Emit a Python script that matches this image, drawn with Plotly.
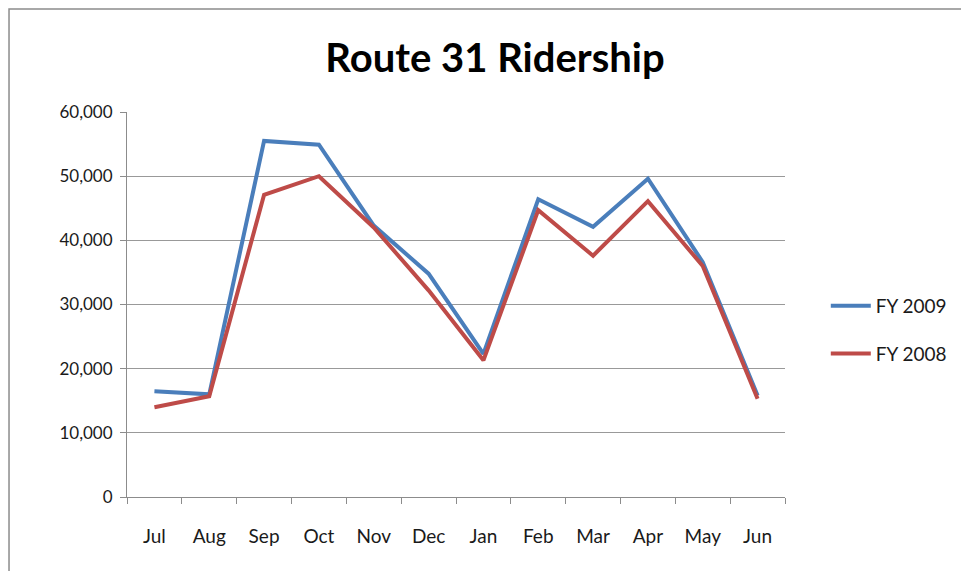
import plotly.graph_objects as go

# Route 31 ridership by month
months = ['Jul', 'Aug', 'Sep', 'Oct', 'Nov', 'Dec', 'Jan', 'Feb', 'Mar', 'Apr', 'May', 'Jun']
fy2009 = [16500, 16000, 55500, 54900, 42300, 34800, 22300, 46400, 42100, 49600, 36600, 15800]
fy2008 = [14000, 15700, 47100, 50000, 42000, 32200, 21300, 44700, 37600, 46100, 36000, 15300]
y_ticks = [0, 10000, 20000, 30000, 40000, 50000, 60000]

font_name = 'Lato, Open Sans, sans-serif'

fig = go.Figure()
fig.add_trace(go.Scatter(x=months, y=fy2009, name='FY 2009', mode='lines', legendgroup='a',
                         line=dict(color='#4A7EBB', width=4)))
fig.add_trace(go.Scatter(x=months, y=fy2008, name='FY 2008', mode='lines', legendgroup='b',
                         line=dict(color='#BE4B48', width=4)))

# grey frame around the chart, like the Excel chart area
fig.add_shape(type='rect', xref='paper', yref='paper', x0=-0.1793, x1=2, y0=-1, y1=1.2675,
              line=dict(color='#8c8c8c', width=1.5), fillcolor='rgba(0,0,0,0)', layer='below')

fig.update_layout(
    autosize=False,
    width=969,
    height=571,
    margin=dict(l=119, r=192, t=104, b=82),
    paper_bgcolor='white',
    plot_bgcolor='white',
    font=dict(family=font_name, size=17, color='#1a1a1a'),
    title=dict(text='Route 31 Ridership', x=0.5026, xref='container', xanchor='center',
               y=0.912, yref='container', yanchor='middle',
               font=dict(family=font_name, size=40, color='black', weight='bold')),
    legend=dict(x=1.062, xanchor='left', y=0.434, yanchor='middle', tracegroupgap=20,
                itemwidth=40, font=dict(size=19), bgcolor='rgba(0,0,0,0)'),
    xaxis=dict(type='category', range=[-0.5, 11.5], showgrid=False, showline=True,
               linecolor='#8c8c8c', linewidth=1, tickfont=dict(size=19),
               ticks='outside', tickson='boundaries', ticklen=6, tickcolor='#8c8c8c',
               ticklabelstandoff=22, zeroline=False),
    yaxis=dict(range=[0, 60000], tickvals=y_ticks, tickformat=',', showgrid=True,
               gridcolor='#999999', gridwidth=1, showline=True, linecolor='#8c8c8c', linewidth=1,
               ticks='outside', ticklen=6, tickcolor='#8c8c8c', ticklabelstandoff=4,
               zeroline=False),
)

fig.write_html('out.html')
